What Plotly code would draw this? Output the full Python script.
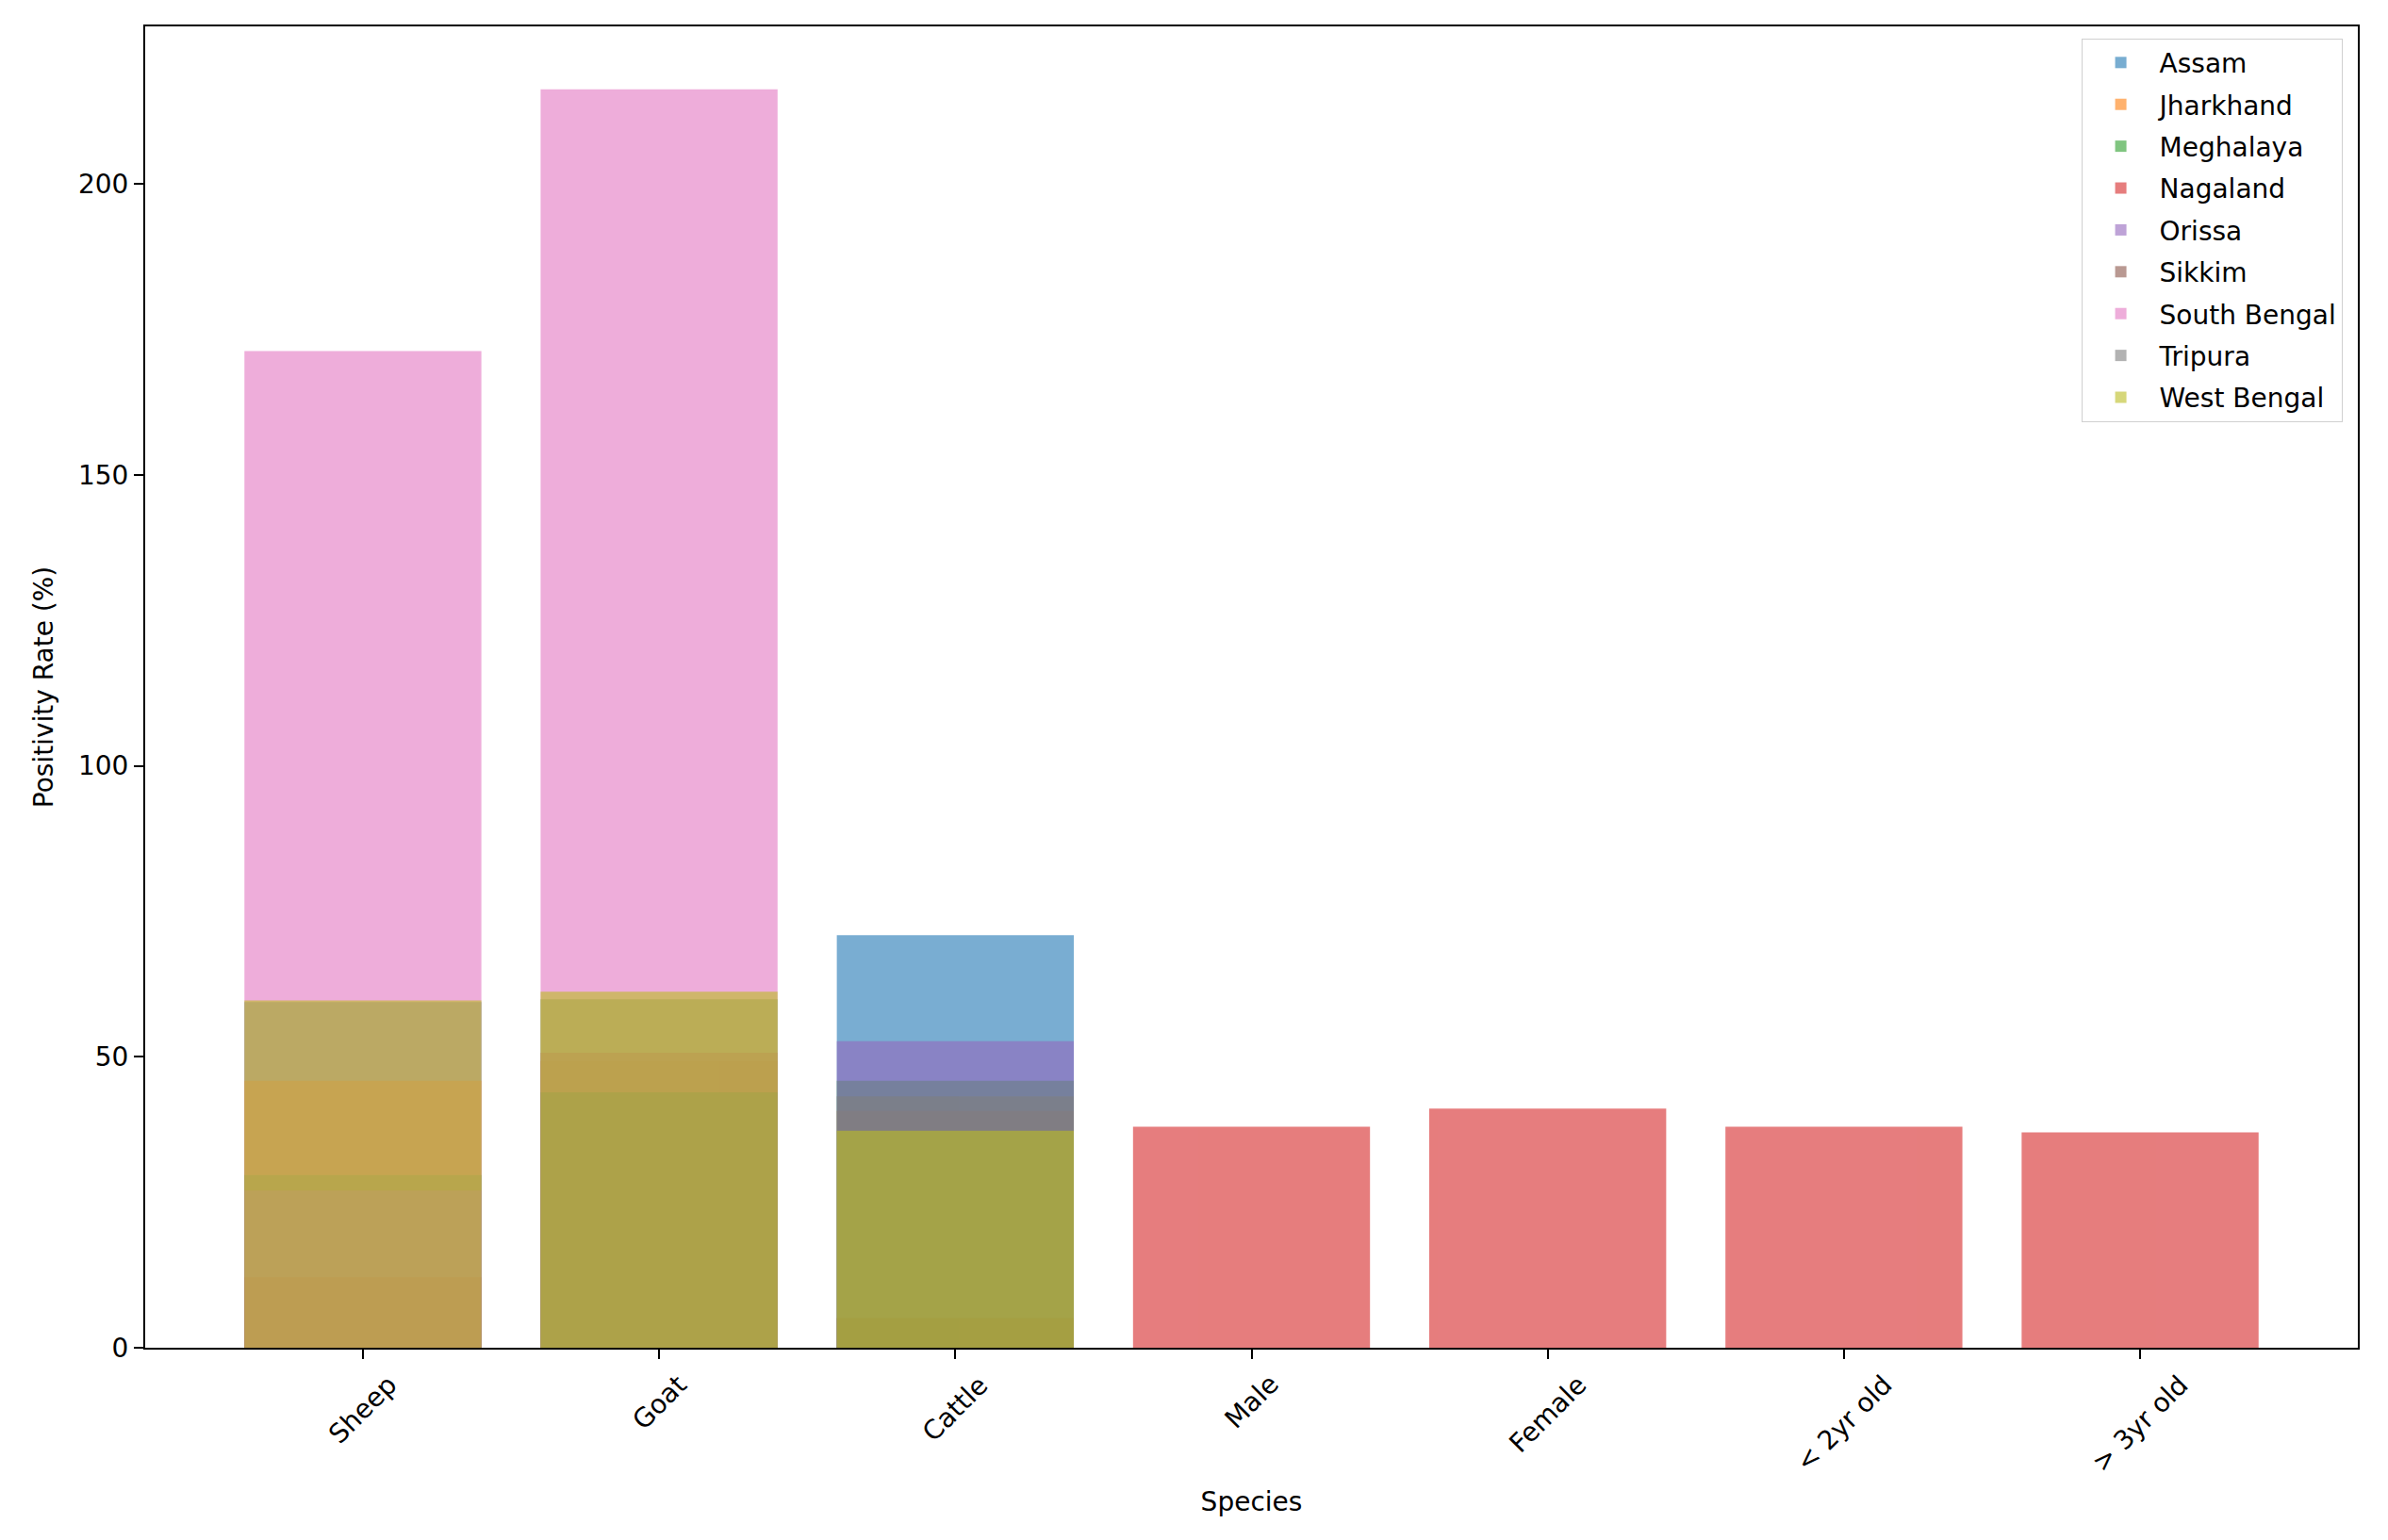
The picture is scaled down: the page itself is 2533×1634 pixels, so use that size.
import plotly.graph_objects as go

## categories on the x axis
categories = ['Sheep', 'Goat', 'Cattle', 'Male', 'Female', '< 2yr old', '> 3yr old']

## positivity rate (%) per state, None where the state has no value
assam = [59.4, None, 70.9, None, None, None, None]
jharkhand = [45.9, 49.3, 40.7, None, None, None, None]
meghalaya = [29.7, 59.9, 45.9, None, None, None, None]
nagaland = [None, None, None, 38.0, 41.1, 38.0, 37.0]
orissa = [27.0, None, 52.7, None, None, None, None]
sikkim = [12.1, 50.7, 5.1, None, None, None, None]
south_bengal = [171.3, 216.3, None, None, None, None, None]
tripura = [None, 43.9, 43.2, None, None, None, None]
west_bengal = [59.7, 61.2, 37.3, None, None, None, None]

states = ['Assam', 'Jharkhand', 'Meghalaya', 'Nagaland', 'Orissa', 'Sikkim',
          'South Bengal', 'Tripura', 'West Bengal']
series = [assam, jharkhand, meghalaya, nagaland, orissa, sikkim,
          south_bengal, tripura, west_bengal]
colors = ['#1f77b4', '#ff7f0e', '#2ca02c', '#d62728', '#9467bd', '#8c564b',
          '#e377c2', '#7f7f7f', '#bcbd22']

fig = go.Figure()
for name, vals, col in zip(states, series, colors):
    xs = [c for c, v in zip(categories, vals) if v is not None]
    ys = [v for v in vals if v is not None]
    fig.add_trace(go.Bar(x=xs, y=ys, name=name, marker=dict(color=col, line=dict(width=0)),
                         opacity=0.6, width=0.8, legendgroup=name))

font = dict(family='DejaVu Sans', size=28, color='black')

## rotated category labels centred under each tick (like ha='center', rotation=45)
for c in categories:
    fig.add_annotation(x=c, xref='x', y=0, yref='paper', text=c, showarrow=False,
                       textangle=-45, xanchor='center', yanchor='top', yshift=-20,
                       font=font)

fig.update_xaxes(title_text='Species', title_font=font, showticklabels=False,
                 title_standoff=142,
                 categoryorder='array', categoryarray=categories, range=[-0.735, 6.735],
                 ticks='outside', ticklen=10, tickwidth=2, tickcolor='black',
                 showline=True, linewidth=2, linecolor='black', mirror=True,
                 showgrid=False, zeroline=False)
fig.update_yaxes(title_text='Positivity Rate (%)', title_font=font, tickfont=font,
                 title_standoff=18,
                 range=[0, 227.1], tickvals=[0, 50, 100, 150, 200],
                 ticks='outside', ticklen=10, tickwidth=2, tickcolor='black',
                 showline=True, linewidth=2, linecolor='black', mirror=True,
                 showgrid=False, zeroline=False)
fig.update_layout(width=2525, height=1626, barmode='overlay', bargap=0.2,
                  plot_bgcolor='white', paper_bgcolor='white', font=font,
                  margin=dict(l=146, r=32, t=20, b=204, autoexpand=False),
                  legend=dict(x=0.993, y=0.991, xanchor='right', yanchor='top',
                              bgcolor='white', bordercolor='#d0d0d0', borderwidth=1,
                              font=font, tracegroupgap=5, itemwidth=72))
fig.write_html("out.html")
